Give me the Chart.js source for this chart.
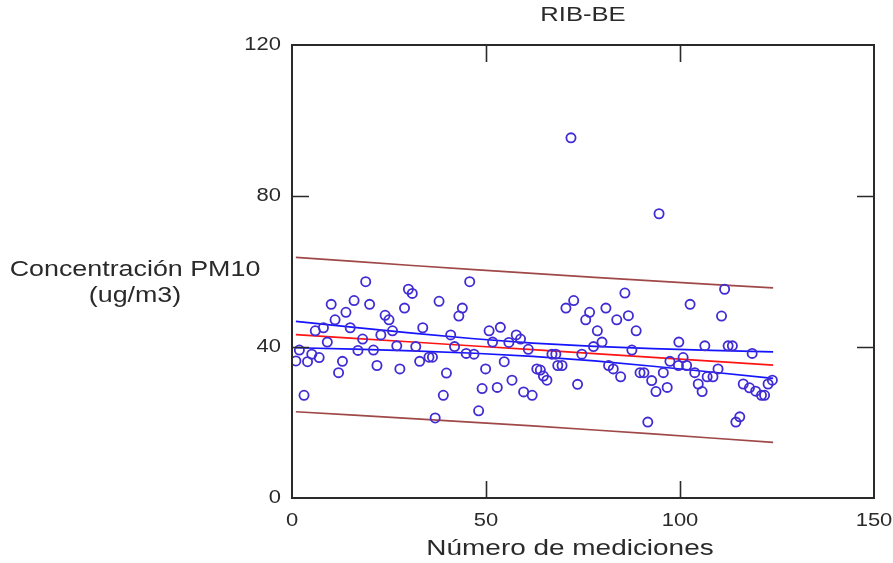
<!DOCTYPE html>
<html>
<head>
<meta charset="utf-8">
<script src="https://cdn.jsdelivr.net/npm/chart.js@4.4.0/dist/chart.umd.min.js"></script>
<style>
  html, body { margin: 0; padding: 0; background: #ffffff; }
  #wrap { width: 893px; height: 563px; position: relative; }
</style>
</head>
<body>
<div id="wrap"><canvas id="c" width="893" height="563"></canvas></div>
<script>
// ---- Data ----
const chartTitle = "RIB-BE";
const xAxisTitle = "Número de mediciones";
const yAxisTitleLines = ["Concentración PM10", "(ug/m3)"];
const xTicks = [0, 50, 100, 150];
const yTicks = [0, 40, 80, 120];

// measurement index (x) and PM10 concentration (y)
const measX = [1.0, 1.9, 3.1, 4.0, 5.1, 6.0, 7.0, 8.1, 9.1, 10.1,
  11.1, 12.0, 13.0, 13.9, 15.0, 16.0, 17.0, 18.2, 19.0, 20.0,
  21.0, 21.9, 22.9, 24.0, 25.0, 25.9, 27.0, 27.8, 29.0, 30.0,
  31.0, 31.9, 32.9, 33.7, 35.3, 36.2, 36.9, 37.9, 39.0, 39.8,
  40.9, 41.9, 43.0, 43.9, 44.9, 45.8, 46.9, 48.1, 49.0, 49.9,
  50.8, 51.7, 52.9, 53.7, 54.7, 55.9, 56.7, 57.8, 58.9, 59.7,
  60.9, 61.9, 63.1, 64.0, 64.8, 65.7, 67.0, 68.0, 68.5, 69.6,
  70.6, 71.9, 72.6, 73.6, 74.7, 75.7, 76.7, 77.7, 78.7, 79.9,
  80.9, 81.6, 82.8, 83.7, 84.7, 85.8, 86.7, 87.6, 88.7, 89.7,
  90.7, 91.7, 92.7, 93.8, 94.6, 95.7, 96.7, 97.4, 99.6, 99.7,
  100.8, 101.7, 102.6, 103.8, 104.7, 105.7, 106.4, 107.0, 108.5, 109.8,
  110.7, 111.5, 112.4, 113.5, 114.4, 115.4, 116.3, 117.9, 118.6, 119.5,
  121.0, 121.8, 122.7, 123.8];
const measY = [36.3, 39.2, 27.2, 36.1, 38.1, 44.3, 37.2, 45.1, 41.3, 51.3,
  47.2, 33.2, 36.2, 49.2, 45.1, 52.3, 39.1, 42.1, 57.3, 51.3,
  39.2, 35.1, 43.2, 48.4, 47.2, 44.3, 40.3, 34.2, 50.3, 55.3,
  54.2, 40.1, 36.2, 45.1, 37.3, 37.3, 21.2, 52.1, 27.2, 33.1,
  43.2, 40.1, 48.2, 50.3, 38.3, 57.3, 38.1, 23.1, 29.0, 34.2,
  44.3, 41.3, 29.3, 45.2, 36.1, 41.2, 31.2, 43.2, 42.1, 28.1,
  39.4, 27.2, 34.2, 33.9, 32.3, 31.2, 38.1, 38.1, 35.1, 35.1,
  50.3, 95.4, 52.3, 30.1, 38.1, 47.2, 49.2, 40.1, 44.3, 41.3,
  50.3, 35.1, 34.2, 47.2, 32.1, 54.3, 48.3, 39.2, 44.3, 33.2,
  33.2, 20.1, 31.1, 28.2, 75.3, 33.2, 29.3, 36.2, 35.1, 41.3,
  37.2, 35.1, 51.3, 33.2, 30.2, 28.2, 40.3, 32.1, 32.1, 34.2,
  48.2, 55.3, 40.3, 40.3, 20.1, 21.5, 30.2, 29.2, 38.3, 28.3,
  27.2, 27.2, 30.2, 31.2];

// regression line, confidence band and prediction band
const bandX      = [1, 16, 31, 47, 62, 78, 93, 108, 124];
const fitY       = [43.3, 42.31, 41.32, 40.27, 39.28, 38.23, 37.24, 36.25, 35.19];
const confUpperY = [46.8, 45.19, 43.66, 42.19, 41.04, 40.15, 39.58, 39.13, 38.69];
const confLowerY = [39.8, 39.43, 38.98, 38.35, 37.52, 36.31, 34.90, 33.37, 31.69];
const predUpperY = [63.75, 62.66, 61.59, 60.49, 59.48, 58.45, 57.51, 56.6, 55.64];
const predLowerY = [22.85, 21.96, 21.05, 20.05, 19.08, 18.01, 16.97, 15.9, 14.74];

// ---- helpers ----
const pairs = (xs, ys) => xs.map((x, i) => ({ x: x, y: ys[i] }));
const SX = 1.22;            // horizontal stretch of the reference lettering
const TEXT = '#2a2a2a';
const FONT = '"Liberation Sans", Arial, sans-serif';

function stretchedText(ctx, str, x, y, align, size, sx) {
  ctx.save();
  ctx.translate(x, y);
  ctx.scale(sx || SX, 1);
  ctx.font = size + 'px ' + FONT;
  ctx.fillStyle = TEXT;
  ctx.textAlign = align;
  ctx.textBaseline = 'middle';
  ctx.fillText(str, 0, 0);
  ctx.restore();
}

const framePlugin = {
  id: 'frame',
  afterDatasetsDraw(chart) {
    const ctx = chart.ctx;
    const a = chart.chartArea;
    const xs = chart.scales.x, ys = chart.scales.y;
    ctx.save();
    ctx.strokeStyle = '#2a2a2a';
    ctx.lineWidth = 2;
    ctx.strokeRect(a.left, a.top, a.right - a.left, a.bottom - a.top);
    const TL = 17;
    ctx.lineWidth = 1.6;
    ctx.beginPath();
    xTicks.forEach(v => {
      if (v === xs.min || v === xs.max) return;
      const p = Math.round(xs.getPixelForValue(v)) + 0.5;
      ctx.moveTo(p, a.bottom); ctx.lineTo(p, a.bottom - TL);
      ctx.moveTo(p, a.top); ctx.lineTo(p, a.top + TL);
    });
    yTicks.forEach(v => {
      if (v === ys.min || v === ys.max) return;
      const p = Math.round(ys.getPixelForValue(v)) + 0.5;
      ctx.moveTo(a.left, p); ctx.lineTo(a.left + TL, p);
      ctx.moveTo(a.right, p); ctx.lineTo(a.right - TL, p);
    });
    ctx.stroke();
    ctx.restore();

    // tick labels
    xTicks.forEach(v => {
      stretchedText(ctx, String(v), xs.getPixelForValue(v), a.bottom + 23, 'center', 18);
    });
    yTicks.forEach(v => {
      stretchedText(ctx, String(v), a.left - 11, ys.getPixelForValue(v), 'right', 18);
    });
    // titles
    stretchedText(ctx, chartTitle, (a.left + a.right) / 2, 15, 'center', 21);
    stretchedText(ctx, xAxisTitle, 570, 549, 'center', 22, 1.27);
    stretchedText(ctx, yAxisTitleLines[0], 135, 270, 'center', 22);
    stretchedText(ctx, yAxisTitleLines[1], 135, 296, 'center', 22);
  }
};

const lineDs = (label, xs, ys, color) => ({
  label: label,
  data: pairs(xs, ys),
  showLine: true,
  borderColor: color,
  borderWidth: 1.7,
  pointRadius: 0,
  fill: false,
  tension: 0,
  order: 2
});

new Chart(document.getElementById('c'), {
  type: 'scatter',
  data: {
    datasets: [
      {
        label: 'Mediciones',
        data: pairs(measX, measY),
        pointStyle: 'circle',
        pointRadius: 4.6,
        pointBorderWidth: 1.8,
        borderColor: 'rgb(64,44,212)',
        backgroundColor: 'rgba(0,0,0,0)',
        order: 1
      },
      lineDs('Pred sup', bandX, predUpperY, 'rgb(160,72,72)'),
      lineDs('Pred inf', bandX, predLowerY, 'rgb(160,72,72)'),
      lineDs('Conf sup', bandX, confUpperY, 'rgb(20,20,255)'),
      lineDs('Conf inf', bandX, confLowerY, 'rgb(20,20,255)'),
      lineDs('Ajuste', bandX, fitY, 'rgb(255,20,20)')
    ]
  },
  options: {
    responsive: false,
    animation: false,
    devicePixelRatio: 1,
    layout: { padding: { left: 292, right: 19, top: 45, bottom: 65 } },
    plugins: { legend: { display: false }, tooltip: { enabled: false }, title: { display: false } },
    scales: {
      x: { type: 'linear', min: 0, max: 150, display: false },
      y: { type: 'linear', min: 0, max: 120, display: false }
    }
  },
  plugins: [framePlugin]
});
</script>
</body>
</html>
